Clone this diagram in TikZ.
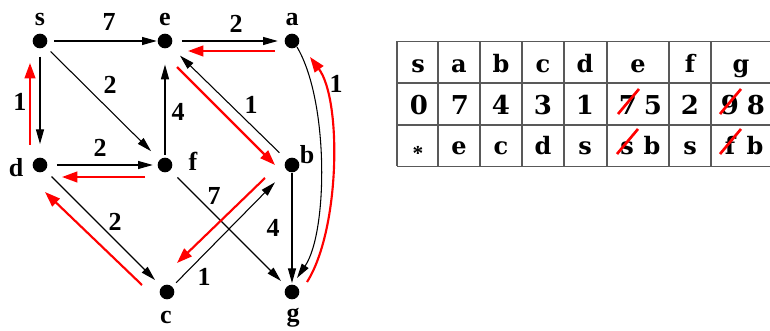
\documentclass[tikz,border=0pt]{standalone}
\usepackage{fontspec}
\setmainfont{Liberation Serif}
\newfontfamily\tabfont{DejaVu Serif}
\usetikzlibrary{arrows.meta,calc}
\begin{document}
\begin{tikzpicture}[
    x=0.75pt, y=-0.75pt,
    vtx/.style    = {circle, fill=black, inner sep=0pt, minimum size=11pt},
    lbl/.style    = {inner sep=0pt, font=\fontsize{19.5}{22}\selectfont\bfseries},
    link/.style   = {draw, line width=0.8pt, -{Triangle[length=11pt,width=6pt]},
                     shorten <=5pt, shorten >=5pt},
    prev/.style   = {draw=red, line width=1.6pt, -{Triangle[length=11.5pt,width=8pt]}},
    tabline/.style = {draw=black!65, line width=1.2pt},
    cell/.style   = {anchor=base, inner sep=0pt, font=\tabfont\fontsize{18}{22}\selectfont\bfseries},
    num/.style    = {cell, font=\tabfont\fontsize{19.5}{22}\selectfont\bfseries},
    strike/.style = {draw=red, line width=2pt},
  ]
    \useasboundingbox (0,0) rectangle (770,331);

    % vertices
    \node[vtx] (s) at (40,41)   {};
    \node[vtx] (e) at (165,41)  {};
    \node[vtx] (a) at (292,41)  {};
    \node[vtx] (d) at (40,165)  {};
    \node[vtx] (f) at (165,165) {};
    \node[vtx] (b) at (292,165) {};
    \node[vtx] (c) at (167,292) {};
    \node[vtx] (g) at (292,292) {};

    \node[lbl] (sl) at (40,20)   {s};
    \node[lbl] (el) at (165,20)  {e};
    \node[lbl] (al) at (292,20)  {a};
    \node[lbl] (dl) at (16,168)  {d};
    \node[lbl] (fl) at (193,161) {f};
    \node[lbl] (bl) at (307,155) {b};
    \node[lbl] (cl) at (166,317) {c};
    \node[lbl] (gl) at (293,318) {g};

    % weights
    \node[lbl] (wse) at (109,22)  {7};
    \node[lbl] (wea) at (236,24)  {2};
    \node[lbl] (wsf) at (110,85)  {2};
    \node[lbl] (wsd) at (20,102)  {1};
    \node[lbl] (wfe) at (178,112) {4};
    \node[lbl] (wbe) at (251,105) {1};
    \node[lbl] (wag) at (336,84)  {1};
    \node[lbl] (wdf) at (100,148) {2};
    \node[lbl] (wfg) at (214,196) {7};
    \node[lbl] (wdc) at (115,222) {2};
    \node[lbl] (wbg) at (273,228) {4};
    \node[lbl] (wcb) at (204,277) {1};

    % edges
    \draw[link, shorten >=0.5pt] (s) -- (e);
    \draw[link, shorten <=7pt] (e) -- (a);
    \draw[link, shorten <=6pt, shorten >=10pt] (s) -- (d);
    \draw[link, shorten <=5.5pt, shorten >=9pt] (s) -- (f);
    \draw[link, shorten <=2pt, shorten >=12pt] (f) -- (e);
    \draw[link, shorten <=7pt, shorten >=3.5pt] (d) -- (f);
    \draw[link, shorten <=7.5pt, shorten >=10pt] (b) -- (e);
    \draw[link, shorten <=6.5pt, shorten >=7pt] (d) -- (c);
    \draw[link, shorten <=4pt, shorten >=12.5pt] (c) -- (b);
    \draw[link, shorten <=7.5pt, shorten >=6pt] (f) -- (g);
    \draw[link, shorten <=0.5pt, shorten >=1pt] (b) -- (g);
    \draw[link, shorten <=0pt, shorten >=0pt] ($(a)+(5,6)$)
        .. controls ($(a)+(37,60)$) and ($(g)+(36,-60)$) .. ($(g)+(5,-14)$);

    % shortest path tree
    \draw[prev] ($(a)+(-17,10)$) -- ($(e)+(23,10)$);
    \draw[prev] ($(d)+(-10,-20)$) -- ($(s)+(-10,22)$);
    \draw[prev] ($(f)+(-20,12)$) -- ($(d)+(22,12)$);
    \draw[prev] ($(e)+(12,26)$) -- ($(b)+(-17,0)$);
    \draw[prev] ($(b)+(-27,13)$) -- ($(c)+(10,-29)$);
    \draw[prev] ($(c)+(-25,-7)$) -- ($(d)+(5,27)$);
    \draw[prev] ($(g)+(15,-10)$)
        .. controls ($(g)+(48,-62)$) and ($(a)+(50,59)$) .. ($(a)+(18,16)$);

    % table
    \draw[tabline] (397,41.5) -- (770,41.5) (397,83) -- (770,83)
                   (397,125) -- (770,125) (397,166.5) -- (770,166.5);
    \draw[tabline] (397,41.5) -- (397,166.5) (438,41.5) -- (438,166.5)
                   (480,41.5) -- (480,166.5) (522,41.5) -- (522,166.5)
                   (564,41.5) -- (564,166.5) (607,41.5) -- (607,166.5)
                   (669,41.5) -- (669,166.5) (711,41.5) -- (711,166.5);

    \node[cell] (hs) at (418,73) {s};
    \node[cell] (ha) at (459,73) {a};
    \node[cell] (hb) at (501,73) {b};
    \node[cell] (hc) at (543,73) {c};
    \node[cell] (hd) at (585,73) {d};
    \node[cell] (he) at (638,73) {e};
    \node[cell] (hf) at (690,73) {f};
    \node[cell] (hg) at (741,73) {g};

    \node[num] (ds)  at (419,115) {0};
    \node[num] (da)  at (460,115) {7};
    \node[num] (db)  at (501,115) {4};
    \node[num] (dc)  at (543,115) {3};
    \node[num] (dd)  at (585,115) {1};
    \node[num] (de1) at (628,115) {7};
    \node[num] (de2) at (653,115) {5};
    \node[num] (df)  at (690,115) {2};
    \node[num] (dg1) at (730,115) {9};
    \node[num] (dg2) at (756,115) {8};

    \node[inner sep=0pt, font=\fontsize{16}{18}\selectfont\bfseries] (ps) at (418,153) {*};
    \node[cell] (pa)  at (459,155) {e};
    \node[cell] (pb)  at (501,155) {c};
    \node[cell] (pc)  at (543,155) {d};
    \node[cell] (pd)  at (585,155) {s};
    \node[cell] (pe1) at (627,155) {s};
    \node[cell] (pe2) at (652,155) {b};
    \node[cell] (pf)  at (690,155) {s};
    \node[cell] (pg1) at (730,155) {f};
    \node[cell] (pg2) at (755,155) {b};

    \draw[strike] ($(de1.base)+(-10,-1)$) -- ($(de1.base)+(11,-26)$);
    \draw[strike] ($(dg1.base)+(-10,-1)$) -- ($(dg1.base)+(11,-26)$);
    \draw[strike] ($(pe1.base)+(-10,-1)$) -- ($(pe1.base)+(11,-26)$);
    \draw[strike] ($(pg1.base)+(-10,-1)$) -- ($(pg1.base)+(11,-26)$);
  \end{tikzpicture}
\end{document}
